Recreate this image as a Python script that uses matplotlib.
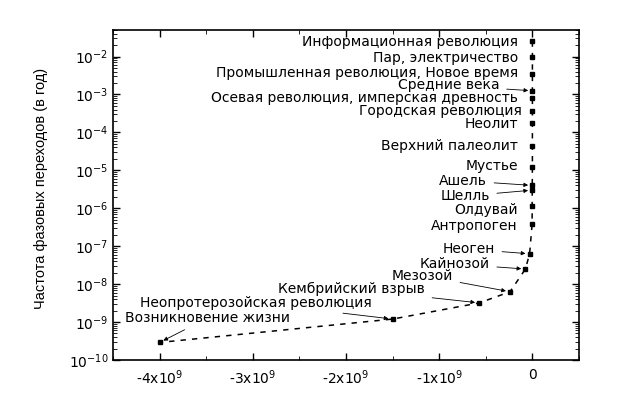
import numpy as np
import matplotlib.pyplot as plt
import matplotlib.ticker as mticker

plt.rcParams['font.family'] = ['DejaVu Sans']
plt.rcParams['mathtext.fontset'] = 'dejavusans'

# события (подписи), время (лет от настоящего) и частота переходов (в год)
labels = ['Информационная революция', 'Пар, электричество',
          'Промышленная революция, Новое время', 'Средние века',
          'Осевая революция, имперская древность', 'Городская революция',
          'Неолит', 'Верхний палеолит', 'Мустье', 'Ашель', 'Шелль',
          'Олдувай', 'Антропоген', 'Неоген', 'Кайнозой', 'Мезозой',
          'Кембрийский взрыв', 'Неопротерозойская революция',
          'Возникновение жизни']
t = [-50, -200, -500, -1500, -2800, -5500, -1e4, -4e4, -1.5e5, -1.4e6,
     -1.8e6, -2.5e6, -3e6, -3e7, -7.5e7, -2.4e8, -5.7e8, -1.5e9, -4e9]
freq = [2.5e-2, 1e-2, 3.5e-3, 1.25e-3, 8.3e-4, 3.7e-4, 1.8e-4, 4.5e-5,
        1.25e-5, 4e-6, 3e-6, 1.15e-6, 3.8e-7, 6.3e-8, 2.5e-8, 6.3e-9,
        3.2e-9, 1.2e-9, 2.9e-10]

# положение подписей (доли осей) и нужна ли стрелка
lab_x = [0.869, 0.869, 0.869, 0.830, 0.869, 0.878, 0.869, 0.869, 0.869,
         0.803, 0.809, 0.869, 0.869, 0.820, 0.809, 0.730, 0.670, 0.556, 0.380]
lab_y = [0.964, 0.915, 0.870, 0.832, 0.794, 0.755, 0.715, 0.648, 0.588,
         0.543, 0.497, 0.456, 0.406, 0.336, 0.291, 0.256, 0.215, 0.173, 0.127]
arrow = [0, 0, 0, 1, 0, 0, 0, 0, 0, 1, 1, 0, 0, 1, 1, 1, 1, 1, 1]

fig = plt.figure(figsize=(6.28, 3.93), dpi=100)
ax = fig.add_axes([113/628, 33/393, 466/628, 330/393])

ax.plot(t, freq, color='black', ls=(0, (3.5, 4)), lw=1.1,
        marker='s', ms=3.5, mfc='black', mec='black')
ax.set_yscale('log')
ax.set_xlim(-4.5e9, 0.5e9)
ax.set_ylim(1e-10, 5e-2)

for i, s in enumerate(labels):
    if arrow[i]:
        ax.annotate(s, xy=(t[i], freq[i]), xytext=(lab_x[i], lab_y[i]),
                    textcoords='axes fraction', ha='right', va='center',
                    fontsize=10,
                    arrowprops=dict(arrowstyle='-|>', color='black', lw=0.6,
                                    mutation_scale=6, shrinkA=3, shrinkB=3))
    else:
        ax.text(lab_x[i], lab_y[i], s, transform=ax.transAxes,
                ha='right', va='center', fontsize=10)

xt = [-4e9, -3e9, -2e9, -1e9, 0]
xt_lab = [r'-4x10$^9$', r'-3x10$^9$', r'-2x10$^9$', r'-1x10$^9$', '0']
ax.set_xticks(xt)
ax.set_xticklabels(xt_lab)
ax.xaxis.set_minor_locator(mticker.MultipleLocator(0.5e9))
ax.xaxis.get_offset_text().set_visible(False)
ax.yaxis.set_major_locator(mticker.LogLocator(base=10, numticks=20))
ax.yaxis.set_minor_locator(mticker.LogLocator(base=10, subs=np.arange(2, 10), numticks=20))
ax.yaxis.set_minor_formatter(mticker.NullFormatter())
ax.tick_params(which='both', direction='in', top=True, right=True, labelsize=10)
ax.tick_params(which='major', length=5, width=1)
ax.tick_params(which='minor', length=3, width=0.6)
ax.tick_params(axis='x', pad=6)
for sp in ax.spines.values():
    sp.set_linewidth(1.2)

ax.set_ylabel('Частота фазовых переходов (в год)', fontsize=10.5,
              family=['Liberation Sans Narrow', 'Liberation Sans'])
ax.yaxis.set_label_coords(-0.14, 0.52)

fig.savefig('out.png', dpi=100)
